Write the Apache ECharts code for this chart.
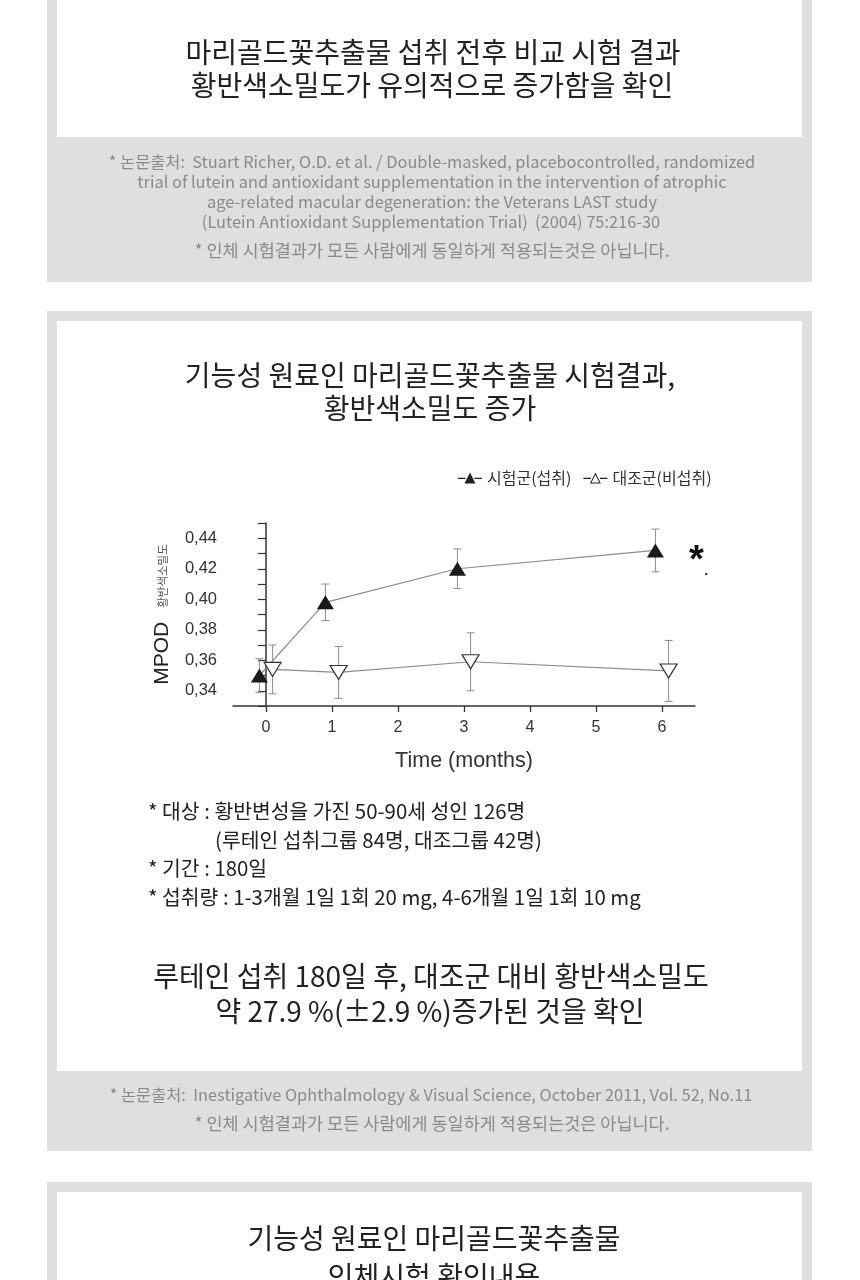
<!DOCTYPE html>
<html><head><meta charset="utf-8">
<script src="https://cdn.jsdelivr.net/npm/echarts@6/dist/echarts.min.js"></script>
<style>html,body{margin:0;padding:0;background:#fff}#c{width:860px;height:1280px}</style>
</head><body><div id="c"></div>
<script>
// ---- data ----
const months = [0, 1, 3, 6];
const testMean = [0.350, 0.398, 0.420, 0.432];
const testErr = [0.011, 0.012, 0.013, 0.014];
const ctrlMean = [0.354, 0.352, 0.359, 0.353];
const ctrlErr = [0.016, 0.017, 0.019, 0.020];
const seriesNames = ['시험군(섭취)', '대조군(비섭취)'];
const xTickValues = [0, 1, 2, 3, 4, 5, 6];
const yTickValues = [0.34, 0.36, 0.38, 0.40, 0.42, 0.44];
const xAxisTitle = 'Time (months)';
const yAxisTitle = 'MPOD';
const yAxisSubTitle = '황반색소밀도';
const sigMarks = [{ text: '*', x: 6.52, y: 0.4304 }];
const dotMarks = [{ x: 6.67, y: 0.4166 }];

const panel1Title = ['마리골드꽃추출물 섭취 전후 비교 시험 결과', '황반색소밀도가 유의적으로 증가함을 확인'];
const panel1Notes = [
  '* 논문출처:  Stuart Richer, O.D. et al. / Double-masked, placebocontrolled, randomized',
  'trial of lutein and antioxidant supplementation in the intervention of atrophic',
  'age-related macular degeneration: the Veterans LAST study',
  '(Lutein Antioxidant Supplementation Trial)  (2004) 75:216-30'
];
const disclaimer = '* 인체 시험결과가 모든 사람에게 동일하게 적용되는것은 아닙니다.';
const panel2Title = ['기능성 원료인 마리골드꽃추출물 시험결과,', '황반색소밀도 증가'];
const bullets = [
  '* 대상 : 황반변성을 가진 50-90세 성인 126명',
  '(루테인 섭취그룹 84명, 대조그룹 42명)',
  '* 기간 : 180일',
  '* 섭취량 : 1-3개월 1일 1회 20 mg, 4-6개월 1일 1회 10 mg'
];
const conclusion = ['루테인 섭취 180일 후, 대조군 대비 황반색소밀도', '약 27.9 %(±2.9 %)증가된 것을 확인'];
const panel2Note = '* 논문출처:  Inestigative Ophthalmology & Visual Science, October 2011, Vol. 52, No.11';
const panel3Title = ['기능성 원료인 마리골드꽃추출물', '인체시험 확인내용'];

// ---- presentation ----
const testShift = -0.1, ctrlShift = 0.1;   // horizontal dodge of the two groups
const KR = "'Noto Sans CJK KR', 'Noto Sans', sans-serif";
const LAT = "'Liberation Sans', Arial, sans-serif";
const GRAY = '#dfdfdf';
const NOTE = '#8a8a8a';

function txt(t, x, y, size, color, align) {
  return { type: 'text', x: x, y: y, z: -5, silent: true,
    style: { text: t, fontSize: size, fontFamily: KR, fill: color,
      align: align || 'center', textAlign: align || 'center',
      verticalAlign: 'middle', textVerticalAlign: 'middle' } };
}
function rect(x, y, w, h, color) {
  return { type: 'rect', z: -10, silent: true, shape: { x: x, y: y, width: w, height: h }, style: { fill: color } };
}

const graphics = [
  rect(47, -20, 765, 302, GRAY), rect(57, -20, 745, 157, '#fff'),
  rect(47, 311, 765, 840, GRAY), rect(57, 321, 745, 750, '#fff'),
  rect(47, 1182, 765, 120, GRAY), rect(57, 1192, 745, 120, '#fff'),
  txt(panel1Title[0], 433, 52, 28, '#222'), txt(panel1Title[1], 432, 85, 28, '#222'),
  txt(panel1Notes[0], 432, 162, 16.4, NOTE), txt(panel1Notes[1], 432, 182, 16.4, NOTE),
  txt(panel1Notes[2], 432, 202, 16.4, NOTE), txt(panel1Notes[3], 431, 222, 16.4, NOTE),
  txt(disclaimer, 432, 250, 17.5, NOTE),
  txt(panel2Title[0], 430, 375, 28, '#222'), txt(panel2Title[1], 430, 408, 28, '#222'),
  txt(bullets[0], 148, 811, 20.4, '#222', 'left'), txt(bullets[1], 215, 840, 20.4, '#222', 'left'),
  txt(bullets[2], 148, 868, 20.4, '#222', 'left'), txt(bullets[3], 148, 897, 20.4, '#222', 'left'),
  txt(conclusion[0], 431, 976, 28, '#222'), txt(conclusion[1], 430, 1011, 28, '#222'),
  txt(panel2Note, 431, 1095, 16.4, NOTE), txt(disclaimer, 432, 1123, 17.5, NOTE),
  txt(panel3Title[0], 434, 1238, 28, '#222'), txt(panel3Title[1], 434, 1276, 28, '#222')
];

function errRender(params, api) {
  const x = api.value(0), m = api.value(1), e = api.value(2);
  const top = api.coord([x, m + e]), bot = api.coord([x, m - e]);
  const hw = 4;
  const style = { stroke: '#8c8c8c', lineWidth: 1, fill: null };
  return { type: 'group', children: [
    { type: 'line', shape: { x1: top[0], y1: top[1], x2: bot[0], y2: bot[1] }, style: style },
    { type: 'line', shape: { x1: top[0] - hw, y1: top[1], x2: top[0] + hw, y2: top[1] }, style: style },
    { type: 'line', shape: { x1: bot[0] - hw, y1: bot[1], x2: bot[0] + hw, y2: bot[1] }, style: style }
  ] };
}

const testData = months.map((m, i) => [m + testShift, testMean[i]]);
const ctrlData = months.map((m, i) => [m + ctrlShift, ctrlMean[i]]);
const testErrData = months.map((m, i) => [m + testShift, testMean[i], testErr[i]]);
const ctrlErrData = months.map((m, i) => [m + ctrlShift, ctrlMean[i], ctrlErr[i]]);

const iconFilled = 'path://M0,5.2h7.5v1.3h-7.5z M16.5,5.2h7.5v1.3h-7.5z M6.5,11L12,0L17.5,11Z';
const iconOpen = 'path://M0,5.2h7.5v1.3h-7.5z M16.5,5.2h7.5v1.3h-7.5z M6.5,11L12,0L17.5,11Z M8.1,10L15.9,10L12,2.3Z';

const chart = echarts.init(document.getElementById('c'), null, { renderer: 'canvas' });
chart.setOption({
  animation: false,
  backgroundColor: '#fff',
  graphic: graphics,
  legend: {
    left: 453, top: 465, itemWidth: 24, itemHeight: 11, itemGap: 12,
    selectedMode: false,
    textStyle: { fontSize: 16, color: '#333', fontFamily: KR },
    data: [
      { name: seriesNames[0], icon: iconFilled, itemStyle: { color: '#222', borderWidth: 0 } },
      { name: seriesNames[1], icon: iconOpen, itemStyle: { color: '#222', borderWidth: 0 } }
    ]
  },
  grid: { left: 233, top: 523, width: 462, height: 183, containLabel: false },
  xAxis: {
    type: 'value', min: -0.5, max: 6.5, splitNumber: 7,
    axisLine: { onZero: false, lineStyle: { color: '#333', width: 1.5 } },
    axisTick: { show: true, length: 6, customValues: xTickValues, lineStyle: { color: '#333', width: 1.3 } },
    axisLabel: { customValues: xTickValues, margin: 14, fontSize: 16, color: '#333', fontFamily: LAT,
      formatter: v => (Number.isInteger(v) ? String(Math.round(v)) : '') },
    splitLine: { show: false },
    name: xAxisTitle, nameLocation: 'middle', nameGap: 44,
    nameTextStyle: { fontSize: 21.5, color: '#333', fontFamily: LAT }
  },
  yAxis: {
    type: 'value', min: 0.33, max: 0.45, interval: 0.01,
    axisLine: { show: true, lineStyle: { color: '#333', width: 1.5 } },
    axisTick: { show: true, length: 8, lineStyle: { color: '#333', width: 1.2 } },
    axisLabel: { customValues: yTickValues, margin: 16, fontSize: 16.5, color: '#333', fontFamily: LAT,
      formatter: v => { const k = Math.round(v * 100); return k % 2 === 0 ? (k / 100).toFixed(2).replace('.', ',') : ''; } },
    splitLine: { show: false },
    name: '{a|' + yAxisTitle + '}{s|}{b|' + yAxisSubTitle + '}',
    nameLocation: 'middle', nameRotate: 90, nameGap: 60,
    nameTextStyle: { rich: {
      a: { fontSize: 21, color: '#222', fontFamily: LAT, verticalAlign: 'middle' },
      s: { width: 14 },
      b: { fontSize: 11.5, color: '#555', fontFamily: KR, verticalAlign: 'middle' }
    } }
  },
  series: [
    { type: 'custom', name: 'err-test', data: testErrData, renderItem: errRender, encode: { x: 0, y: 1 }, z: 1, silent: true },
    { type: 'custom', name: 'err-ctrl', data: ctrlErrData, renderItem: errRender, encode: { x: 0, y: 1 }, z: 1, silent: true },
    {
      type: 'line', name: seriesNames[0], data: testData, z: 3,
      symbol: 'triangle', symbolSize: [17, 14], showSymbol: true,
      itemStyle: { color: '#1a1a1a' },
      lineStyle: { color: '#8c8c8c', width: 1.2 },
      emphasis: { disabled: true }
    },
    {
      type: 'line', name: seriesNames[1], data: ctrlData, z: 4,
      symbol: 'triangle', symbolRotate: 180, symbolSize: [17, 14], showSymbol: true,
      itemStyle: { color: '#fff', borderColor: '#333', borderWidth: 1.2 },
      lineStyle: { color: '#8c8c8c', width: 1.2 },
      emphasis: { disabled: true }
    }
  ]
});

// significance annotations, placed through the chart's own coordinate conversion
sigMarks.forEach(s => {
  const p = chart.convertToPixel({ gridIndex: 0 }, [s.x, s.y]);
  graphics.push({ type: 'text', x: p[0], y: p[1] + 8.4, z: 10, silent: true,
    style: { text: s.text, fontSize: 38, fontWeight: 'bold', fontFamily: LAT, fill: '#111',
      align: 'center', textAlign: 'center', verticalAlign: 'middle', textVerticalAlign: 'middle' } });
});
dotMarks.forEach(d => {
  const p = chart.convertToPixel({ gridIndex: 0 }, [d.x, d.y]);
  graphics.push({ type: 'circle', z: 10, silent: true, shape: { cx: p[0], cy: p[1], r: 1.3 }, style: { fill: '#444' } });
});
chart.setOption({ graphic: graphics });
</script></body></html>
